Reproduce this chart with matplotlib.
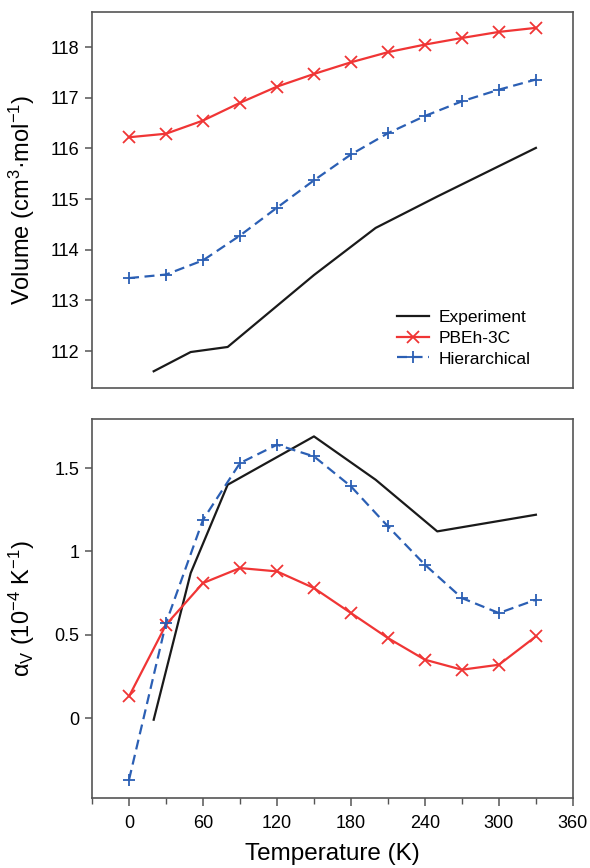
import numpy as np
import matplotlib
matplotlib.use("Agg")
import matplotlib.pyplot as plt
from matplotlib.ticker import MultipleLocator, FixedLocator

plt.rcParams['font.family'] = ['Liberation Sans', 'DejaVu Sans']
plt.rcParams['mathtext.fontset'] = 'custom'
plt.rcParams['mathtext.rm'] = 'Liberation Sans'
plt.rcParams['mathtext.it'] = 'Liberation Sans:italic'

# temperatures (K)
T_calc = [0, 30, 60, 90, 120, 150, 180, 210, 240, 270, 300, 330]
T_exp = [20, 50, 80, 150, 200, 250, 330]

# molar volume (cm3/mol)
vol_exp = [111.60, 111.98, 112.08, 113.50, 114.43, 115.05, 116.01]
vol_pbeh = [116.22, 116.29, 116.55, 116.90, 117.22, 117.47, 117.70, 117.90,
            118.05, 118.18, 118.30, 118.38]
vol_hier = [113.44, 113.51, 113.79, 114.28, 114.83, 115.37, 115.88, 116.30,
            116.64, 116.93, 117.16, 117.36]

# thermal expansion (1e-4 / K)
alpha_exp = [-0.01, 0.87, 1.40, 1.69, 1.43, 1.12, 1.22]
alpha_pbeh = [0.13, 0.56, 0.81, 0.90, 0.88, 0.78, 0.63, 0.48, 0.35, 0.29,
              0.32, 0.49]
alpha_hier = [-0.37, 0.57, 1.19, 1.53, 1.64, 1.57, 1.39, 1.15, 0.92, 0.72,
              0.63, 0.71]

vol_ticks = [112, 113, 114, 115, 116, 117, 118]
alpha_ticks = [0, 0.5, 1, 1.5]
alpha_ticklabels = ["0", "0.5", "1", "1.5"]
x_ticks = [0, 60, 120, 180, 240, 300, 360]

labels = ["Experiment", "PBEh-3C", "Hierarchical"]
c_exp, c_pbeh, c_hier = "#1a1a1a", "#f03535", "#2b5fb4"
spine_col = "#555555"

fig = plt.figure(figsize=(5.9, 8.68), dpi=100)
ax1 = fig.add_axes([0.156, 0.553, 0.815, 0.433])
ax2 = fig.add_axes([0.156, 0.0806, 0.815, 0.4366])


def style(ax):
    for s in ax.spines.values():
        s.set_color(spine_col)
        s.set_linewidth(1.2)
    ax.tick_params(axis="y", direction="out", length=5, width=1.1,
                   color=spine_col, labelsize=13, pad=4, right=False)
    ax.set_xlim(-30, 360)


# ---- top: volume
style(ax1)
ax1.plot(T_exp, vol_exp, color=c_exp, lw=1.6, label=labels[0])
ax1.plot(T_calc, vol_pbeh, color=c_pbeh, lw=1.6, marker="x", ms=8, mew=1.3,
         label=labels[1])
ax1.plot(T_calc, vol_hier, color=c_hier, lw=1.6, ls=(0, (4.5, 2.5)),
         marker="+", ms=8, mew=1.3, label=labels[2])
ax1.set_ylim(111.27, 118.69)
ax1.yaxis.set_major_locator(FixedLocator(vol_ticks))
ax1.tick_params(axis="x", bottom=False, labelbottom=False)
ax1.set_ylabel("Volume (cm$^{3}$·mol$^{-1}$)", fontsize=17)
ax1.yaxis.set_label_coords(-0.115, 0.5)
ax1.legend(loc="lower right", frameon=False, fontsize=12.5, handlelength=1.85,
           handletextpad=0.55, labelspacing=0.32, borderpad=0,
           bbox_to_anchor=(0.93, 0.034))

# ---- bottom: thermal expansion
style(ax2)
ax2.plot(T_exp, alpha_exp, color=c_exp, lw=1.6)
ax2.plot(T_calc, alpha_pbeh, color=c_pbeh, lw=1.6, marker="x", ms=8, mew=1.3)
ax2.plot(T_calc, alpha_hier, color=c_hier, lw=1.6, ls=(0, (4.5, 2.5)),
         marker="+", ms=8, mew=1.3)
ax2.set_ylim(-0.48, 1.794)
ax2.set_yticks(alpha_ticks)
ax2.set_yticklabels(alpha_ticklabels)
ax2.set_xticks(x_ticks)
ax2.xaxis.set_minor_locator(MultipleLocator(30))
ax2.tick_params(axis="x", which="major", direction="out", length=6, width=1.1,
                color=spine_col, labelsize=13, pad=6)
ax2.tick_params(axis="x", which="minor", direction="out", length=4, width=1.0,
                color=spine_col)
ax2.set_xlabel("Temperature (K)", fontsize=17.5, labelpad=8)
ax2.set_ylabel("α$_\\mathregular{V}$ (10$^{\\mathregular{-4}}$ K$^{\\mathregular{-1}}$)",
               fontsize=17)
ax2.yaxis.set_label_coords(-0.115, 0.5)

fig.savefig("out.png", dpi=100)
